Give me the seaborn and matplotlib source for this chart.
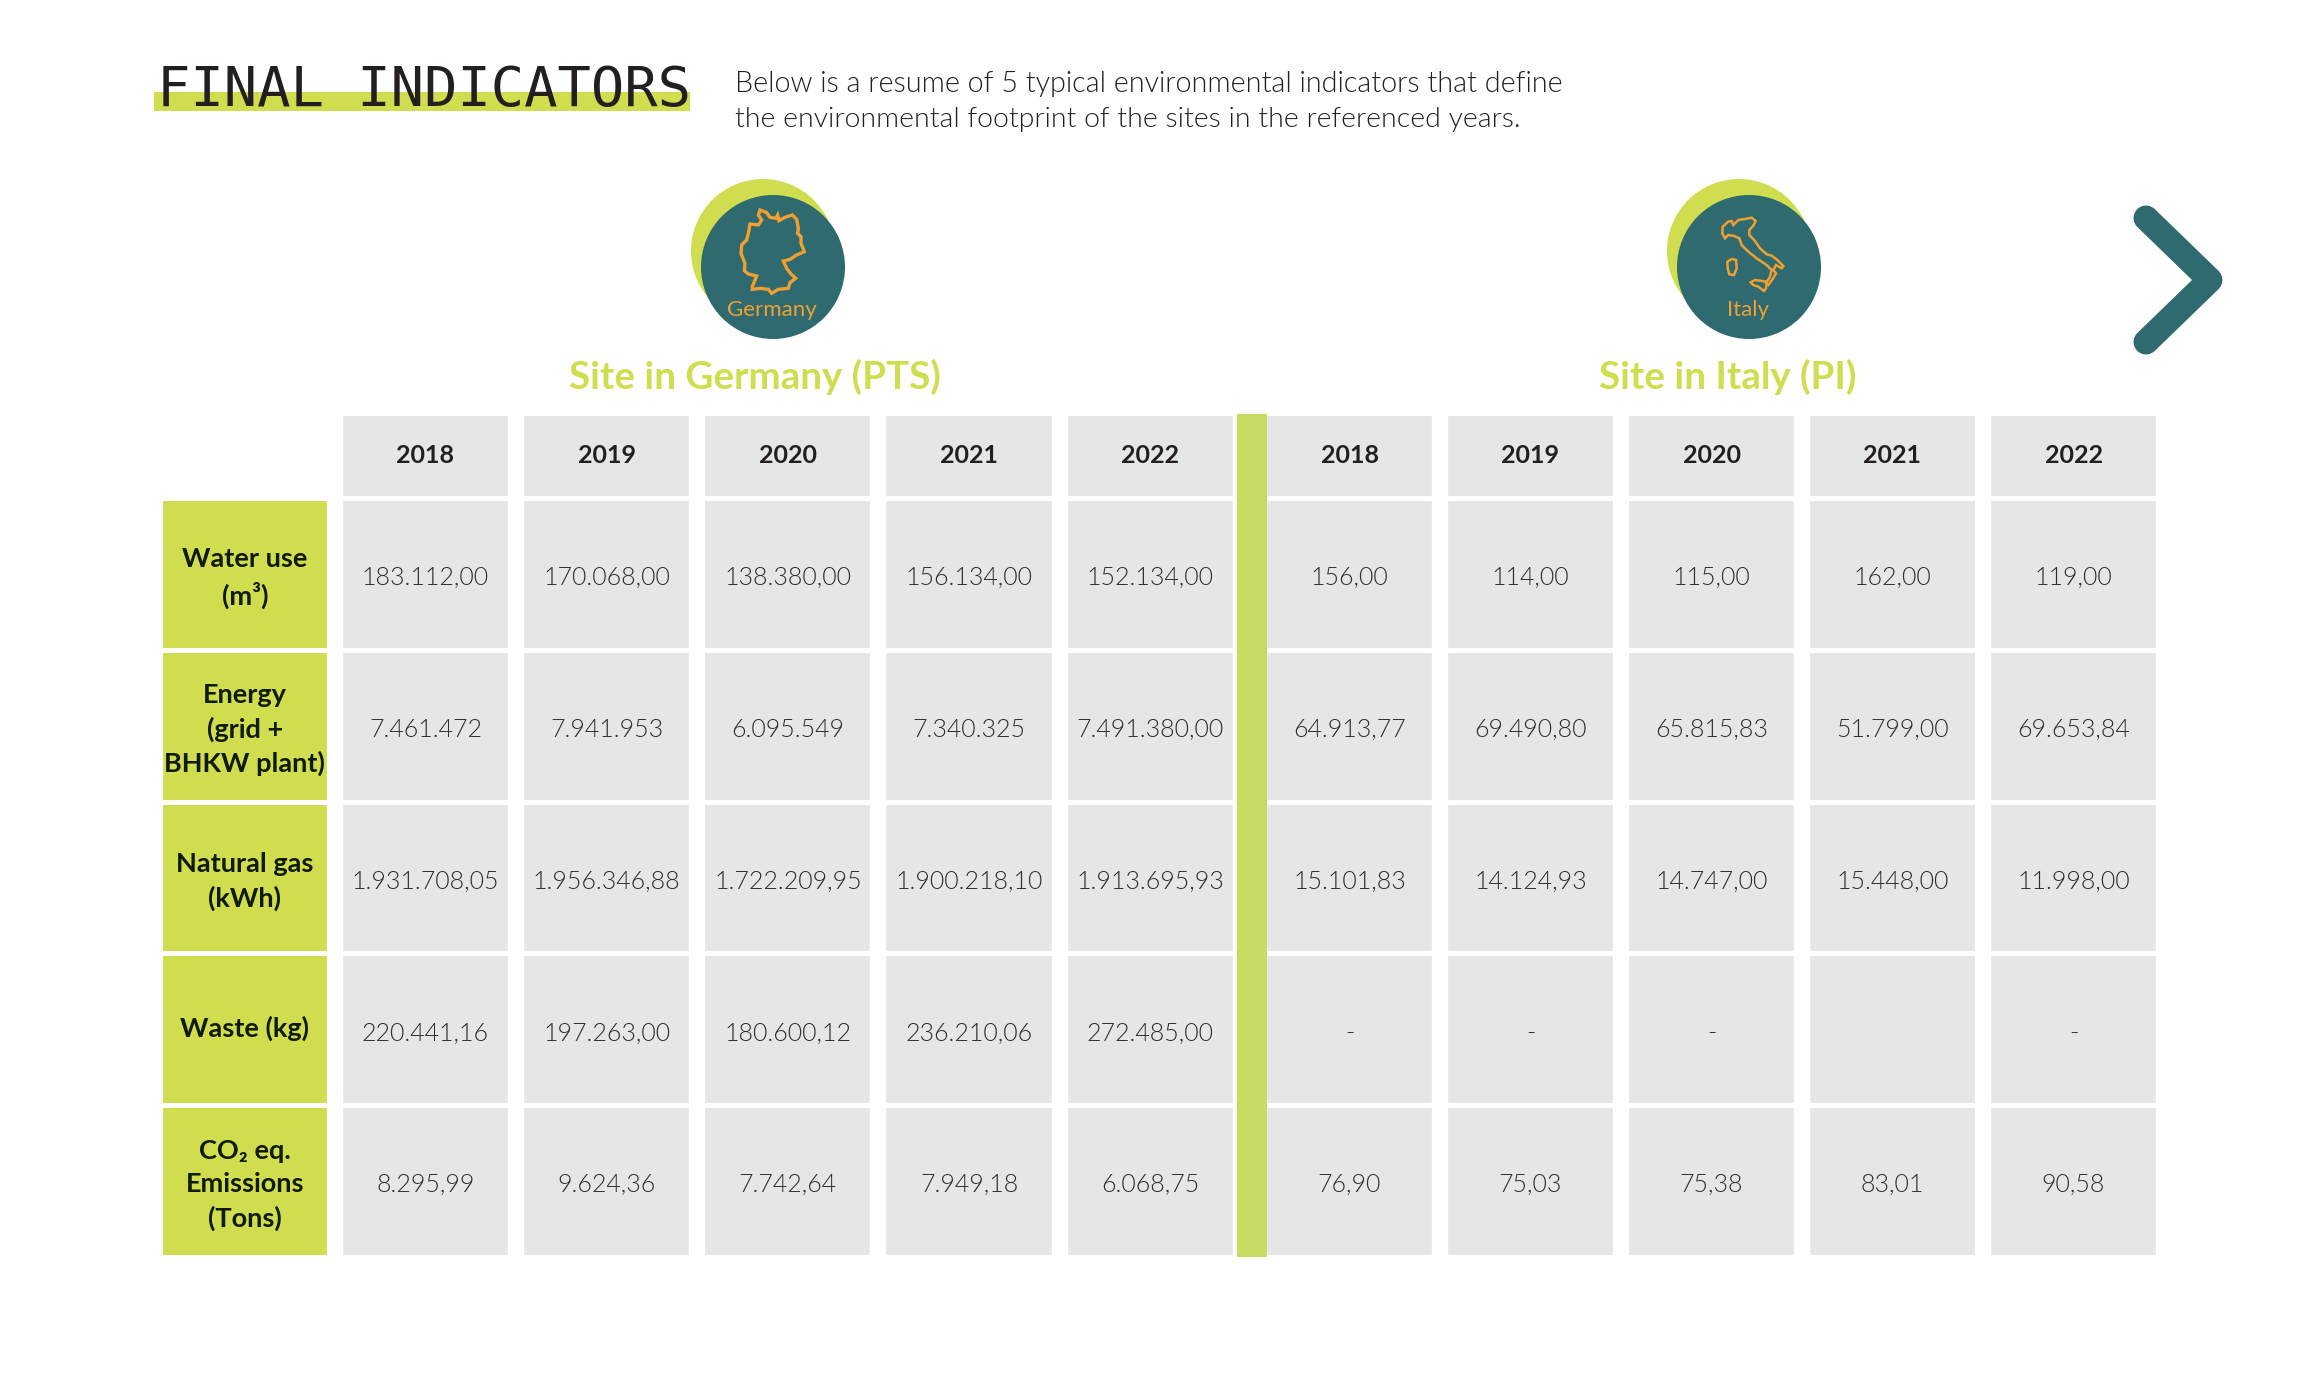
import numpy as np
import matplotlib
matplotlib.use("Agg")
import matplotlib.pyplot as plt
from matplotlib.colors import ListedColormap
from matplotlib.patches import Circle, Polygon, Rectangle
import seaborn as sns

years = ["2018", "2019", "2020", "2021", "2022"]
row_labels = ["Water use\n(m³)", "Energy\n(grid +\nBHKW plant)", "Natural gas\n(kWh)",
              "Waste (kg)", "CO₂ eq.\nEmissions\n(Tons)"]

water_de = ["183.112,00", "170.068,00", "138.380,00", "156.134,00", "152.134,00"]
energy_de = ["7.461.472", "7.941.953", "6.095.549", "7.340.325", "7.491.380,00"]
gas_de = ["1.931.708,05", "1.956.346,88", "1.722.209,95", "1.900.218,10", "1.913.695,93"]
waste_de = ["220.441,16", "197.263,00", "180.600,12", "236.210,06", "272.485,00"]
co2_de = ["8.295,99", "9.624,36", "7.742,64", "7.949,18", "6.068,75"]

water_it = ["156,00", "114,00", "115,00", "162,00", "119,00"]
energy_it = ["64.913,77", "69.490,80", "65.815,83", "51.799,00", "69.653,84"]
gas_it = ["15.101,83", "14.124,93", "14.747,00", "15.448,00", "11.998,00"]
waste_it = ["-", "-", "-", "", "-"]
co2_it = ["76,90", "75,03", "75,38", "83,01", "90,58"]

# map outlines, traced at 3x around the icon
germany_outline = [(135, 30), (155, 38), (165, 52), (183, 55), (188, 45), (192, 62), (210, 52), (232, 45),
                   (245, 58), (250, 85), (248, 100), (258, 110), (258, 130), (268, 155), (245, 165),
                   (225, 178), (205, 183), (215, 205), (228, 222), (242, 235), (225, 248), (220, 265),
                   (190, 268), (170, 280), (160, 268), (135, 265), (112, 268), (112, 260), (125, 228),
                   (100, 222), (88, 212), (90, 190), (78, 160), (80, 135), (95, 120), (100, 100),
                   (105, 72), (130, 75), (140, 60), (130, 45)]
italy_main = [(98, 65), (115, 50), (125, 48), (130, 60), (145, 45), (165, 42), (185, 38), (197, 48), (190, 62),
              (178, 75), (178, 90), (195, 108), (210, 130), (230, 148), (245, 152), (262, 165), (280, 183),
              (275, 190), (258, 180), (250, 195), (258, 205), (248, 222), (235, 240), (228, 235), (240, 215),
              (245, 195), (230, 180), (200, 160), (175, 140), (155, 120), (148, 100), (130, 92), (115, 90),
              (105, 100), (97, 85)]
italy_sicily = [(182, 232), (195, 225), (230, 230), (228, 250), (222, 258), (205, 245), (190, 240)]
italy_sardinia = [(112, 170), (125, 162), (138, 165), (140, 190), (132, 210), (118, 208), (113, 190)]

W, H = 2321, 1390
GREY = "#E5E7E6"
GREEN = "#CFDD4E"
BAR = "#C6DC62"
TEAL = "#2E6A70"
ORANGE = "#F0A030"
DARK = "#231F20"
LIGHT = 300

sns.set_theme(style="white")
plt.rcParams['font.family'] = ['Lato', 'DejaVu Sans']

fig = plt.figure(figsize=(W / 100, H / 100), dpi=100, facecolor="white")

# page axes in pixels, for everything that is not a table cell
page = fig.add_axes([0, 0, 1, 1], zorder=5)
page.set_xlim(0, W)
page.set_ylim(H, 0)
page.axis("off")

page.add_patch(Rectangle((154, 92), 536, 19, color=GREEN, lw=0))
page.text(157, 106, "FINAL INDICATORS", family="DejaVu Sans Mono", fontsize=40, color=DARK, va="baseline")
page.text(735, 84, "Below is a resume of 5 typical environmental indicators that define",
          fontsize=20.7, weight=LIGHT, color=DARK, va="center")
page.text(735, 120, "the environmental footprint of the sites in the referenced years.",
          fontsize=20.5, weight=LIGHT, color=DARK, va="center")

for cx, name, title, tx in [(773, "Germany", "Site in Germany (PTS)", 755),
                            (1749, "Italy", "Site in Italy (PI)", 1728)]:
    page.add_patch(Circle((cx - 10, 251), 72, color=GREEN, lw=0))
    page.add_patch(Circle((cx, 267), 72, color=TEAL, lw=0))
    page.text(cx - 1, 309.5, name, fontsize=16, color=ORANGE, ha="center", va="center")
    page.text(tx, 376.5, title, fontsize=27.7, weight="bold", color=GREEN, ha="center", va="center")

page.add_patch(Polygon([(715 + x / 3, 200 + y / 3) for x, y in germany_outline], fill=False, ec=ORANGE, lw=2.4))
for outline in [italy_main, italy_sicily, italy_sardinia]:
    page.add_patch(Polygon([(1690 + x / 3, 205 + y / 3) for x, y in outline], fill=False, ec=ORANGE, lw=1.8))

page.plot([2146, 2210, 2146], [218, 280, 342], color=TEAL, lw=18, solid_capstyle="round", solid_joinstyle="round")
page.add_patch(Rectangle((1237, 414), 30, 843, color=BAR, lw=0))


def cell_table(cells, left, right, top, bottom, color, text_color, size, weight, linespacing=1.2, nudge=0):
    # one block of the table, as a heatmap with a single colour
    ax = fig.add_axes([left / W, 1 - bottom / H, (right - left) / W, (bottom - top) / H])
    ax.patch.set_alpha(0)
    cells = np.array(cells)
    sns.heatmap(np.zeros(cells.shape), ax=ax, cmap=ListedColormap([color]), cbar=False,
                annot=cells, fmt="", linewidths=2.5, linecolor="white",
                xticklabels=False, yticklabels=False,
                annot_kws={"fontsize": size, "weight": weight, "color": text_color,
                           "linespacing": linespacing, "va": "center_baseline"})
    # columns sit further apart than rows
    ax.vlines(np.arange(cells.shape[1] + 1), 0, cells.shape[0], color="white", lw=11.7)
    for t in ax.texts:
        x, y = t.get_position()
        t.set_position((x, y + nudge))
    return ax


TOP, HEAD, BOTTOM = 412.5, 498, 1257
body_de = [water_de, energy_de, gas_de, waste_de, co2_de]
body_it = [water_it, energy_it, gas_it, waste_it, co2_it]

cell_table([years], 334.8, 1240.8, TOP, HEAD, GREY, DARK, 18, "bold", nudge=-0.015)
cell_table([years], 1259, 2164, TOP, HEAD, GREY, DARK, 18, "bold", nudge=-0.015)
cell_table(body_de, 334.8, 1240.8, HEAD, BOTTOM, GREY, "#2E2E2E", 18, LIGHT, nudge=0.01)
cell_table(body_it, 1259, 2164, HEAD, BOTTOM, GREY, "#2E2E2E", 18, LIGHT, nudge=0.01)
cell_table([[label] for label in row_labels], 154.8, 334.8, HEAD, BOTTOM, GREEN, "#101A05", 19.5, "bold",
           1.45, nudge=-0.02)

fig.savefig("out.png", dpi=100)
